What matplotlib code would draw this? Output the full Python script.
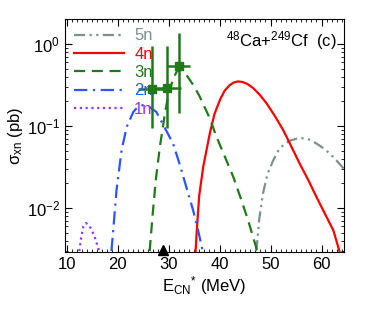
import numpy as np
import matplotlib
matplotlib.use('Agg')
import matplotlib.pyplot as plt
from matplotlib.ticker import MultipleLocator, LogLocator, NullFormatter

plt.rcParams['font.family'] = ['Liberation Sans', 'DejaVu Sans']
plt.rcParams['mathtext.fontset'] = 'custom'
plt.rcParams['mathtext.rm'] = 'Liberation Sans'
plt.rcParams['mathtext.it'] = 'Liberation Sans'

# curves (E*, sigma in pb)
e_1n = [12.5, 12.9, 13.3, 13.8, 14.4, 15.0, 15.5, 16.4]
s_1n = [0.003, 0.0045, 0.006, 0.0066, 0.0062, 0.0053, 0.0045, 0.003]

e_2n = [18.8, 19.1, 19.8, 20.8, 21.8, 23.1, 24.0, 25.0, 26.2, 27.6, 28.9, 30.9, 32.2, 33.5, 34.8, 35.5, 36.7]
s_2n = [0.003, 0.0049, 0.0166, 0.051, 0.098, 0.149, 0.172, 0.18, 0.172, 0.149, 0.105, 0.061, 0.034, 0.018, 0.0095, 0.0065, 0.003]

e_3n = [26.3, 26.9, 27.5, 28.3, 29.3, 29.9, 30.9, 31.6, 32.3, 33.0, 33.5, 34.8, 36.1, 38.1, 39.4, 41.0, 42.7, 44.2, 45.6, 47.4]
s_3n = [0.003, 0.0086, 0.022, 0.056, 0.143, 0.23, 0.38, 0.46, 0.49, 0.47, 0.42, 0.32, 0.23, 0.124, 0.074, 0.043, 0.024, 0.013, 0.0071, 0.003]

e_4n = [35.3, 35.5, 36.0, 36.8, 38.1, 39.0, 40.1, 41.0, 42.0, 42.8, 43.6, 44.5, 45.5, 46.6, 47.9, 49.2, 50.8, 52.5, 54.1, 55.7, 57.4, 59.0, 60.6, 62.3, 63.5]
s_4n = [0.003, 0.0049, 0.014, 0.032, 0.082, 0.14, 0.21, 0.27, 0.316, 0.34, 0.35, 0.345, 0.325, 0.29, 0.24, 0.19, 0.134, 0.089, 0.056, 0.035, 0.022, 0.0137, 0.0087, 0.0054, 0.003]

e_5n = [47.1, 47.3, 47.8, 48.5, 49.4, 50.5, 51.5, 52.5, 53.7, 55.0, 55.7, 56.5, 57.5, 58.5, 59.6, 61.0, 62.3, 63.3, 64.4]
s_5n = [0.003, 0.0034, 0.0075, 0.015, 0.026, 0.038, 0.05, 0.059, 0.066, 0.07, 0.071, 0.071, 0.069, 0.064, 0.058, 0.05, 0.042, 0.036, 0.030]

# measured 3n points
e_exp = [26.7, 29.7, 32.0]
s_exp = [0.28, 0.29, 0.54]
e_err = [2.6, 2.8, 2.3]
s_lo = [0.096, 0.096, 0.143]
s_hi = [0.95, 0.95, 1.35]

e_tri = [29.0]

c5 = '#7d8f8f'
c4 = '#ff0000'
c3 = '#1f7a1a'
c2 = '#2a55ff'
c1 = '#9a33ff'

fig = plt.figure(figsize=(3.74, 3.2), dpi=100)
ax = fig.add_axes([65/374, 1-251.7/320, (344-65)/374, (251.7-19.3)/320])

ax.plot(e_5n, s_5n, color=c5, lw=1.6, dashes=(5, 2, 1, 2, 1, 2), label='5n')
ax.plot(e_4n, s_4n, color=c4, lw=1.6, label='4n')
ax.plot(e_3n, s_3n, color=c3, lw=1.6, dashes=(5, 3), label='3n')
ax.plot(e_2n, s_2n, color=c2, lw=1.6, dashes=(6, 2.5, 1, 2.5), label='2n')
ax.plot(e_1n, s_1n, color=c1, lw=1.6, dashes=(1, 1.6), label='1n')

yerr = [np.array(s_exp) - np.array(s_lo), np.array(s_hi) - np.array(s_exp)]
ax.errorbar(e_exp, s_exp, xerr=e_err, yerr=yerr, fmt='s', color=c3, ms=6,
            elinewidth=1.8, capsize=0, zorder=5)

ax.plot(e_tri, [0.0031], marker='^', color='black', ms=7, ls='none', clip_on=False, zorder=6)

ax.set_yscale('log')
ax.set_xlim(9.7, 64.4)
ax.set_ylim(0.00295, 2.0)
ax.xaxis.set_major_locator(MultipleLocator(10))
ax.xaxis.set_minor_locator(MultipleLocator(1))
ax.yaxis.set_major_locator(LogLocator(base=10, numticks=10))
ax.yaxis.set_minor_locator(LogLocator(base=10, subs=np.arange(2, 10), numticks=10))
ax.yaxis.set_minor_formatter(NullFormatter())
ax.tick_params(which='both', direction='in', top=True, right=True, labelsize=12)
ax.tick_params(which='major', length=5, width=0.8)
ax.tick_params(which='minor', length=2.5, width=0.6)

ax.set_xlabel(r'E$_{\mathregular{CN}}$$^{\mathregular{*}}$ (MeV)', fontsize=12, labelpad=2)
ax.set_ylabel(r'$\mathregular{\sigma_{xn}}$ (pb)', fontsize=12, labelpad=1)

ax.text(0.975, 0.91, r'$^{\mathregular{48}}$Ca+$^{\mathregular{249}}$Cf  (c)', transform=ax.transAxes,
        ha='right', va='center', fontsize=12)

leg = ax.legend(loc='upper left', frameon=False, fontsize=12, handlelength=3.0,
                handletextpad=0.6, labelspacing=0.2, borderaxespad=0.15,
                labelcolor='linecolor')

fig.savefig('out.png', dpi=100)
